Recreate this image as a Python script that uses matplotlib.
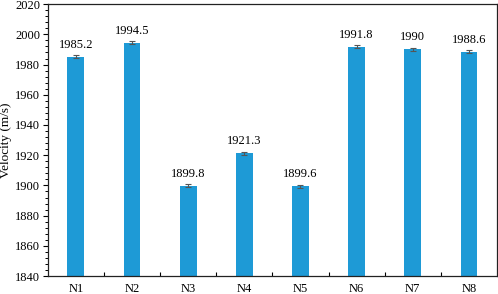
import matplotlib.pyplot as plt
from matplotlib.ticker import MultipleLocator, FixedLocator

plt.rcParams['font.family'] = ['Liberation Serif', 'DejaVu Serif']

# data
samples = ['N1', 'N2', 'N3', 'N4', 'N5', 'N6', 'N7', 'N8']
velocity = [1985.2, 1994.5, 1899.8, 1921.3, 1899.6, 1991.8, 1990, 1988.6]
err = [1.0, 1.0, 1.0, 1.0, 1.0, 1.0, 1.0, 1.0]
labels = ['1985.2', '1994.5', '1899.8', '1921.3', '1899.6', '1991.8', '1990', '1988.6']

fig = plt.figure(figsize=(4.98, 2.94), dpi=100)
ax = fig.add_axes([0.096, 0.061, 0.902, 0.925])

x = range(len(samples))
ax.bar(x, [v - 1840 for v in velocity], bottom=1840, width=0.3, color='#1e9ad6',
       yerr=err, ecolor='#555555', capsize=2.5, error_kw={'elinewidth': 0.8, 'capthick': 0.8})

for i, v in enumerate(velocity):
    ax.text(i, v + 4, labels[i], ha='center', va='bottom', fontsize=9)

ax.set_xlim(-0.5, 7.5)
ax.set_ylim(1840, 2020)
ax.set_xticks(list(x))
ax.set_xticklabels(samples, fontsize=9)
ax.xaxis.set_minor_locator(FixedLocator([i + 0.5 for i in range(7)]))
ax.tick_params(axis='x', which='major', length=0, pad=5)
ax.tick_params(axis='x', which='minor', direction='in', length=3, width=0.8)
ax.yaxis.set_major_locator(MultipleLocator(20))
ax.yaxis.set_minor_locator(MultipleLocator(4))
ax.tick_params(axis='y', which='major', direction='out', length=3.5, width=0.8,
               labelsize=9, pad=2)
ax.tick_params(axis='y', which='minor', direction='out', length=2, width=0.7)
ax.set_ylabel('Velocity (m/s)', fontsize=9.5, labelpad=2)

for s in ax.spines.values():
    s.set_linewidth(0.9)
    s.set_color('#222222')

plt.savefig('out.png', dpi=100)
